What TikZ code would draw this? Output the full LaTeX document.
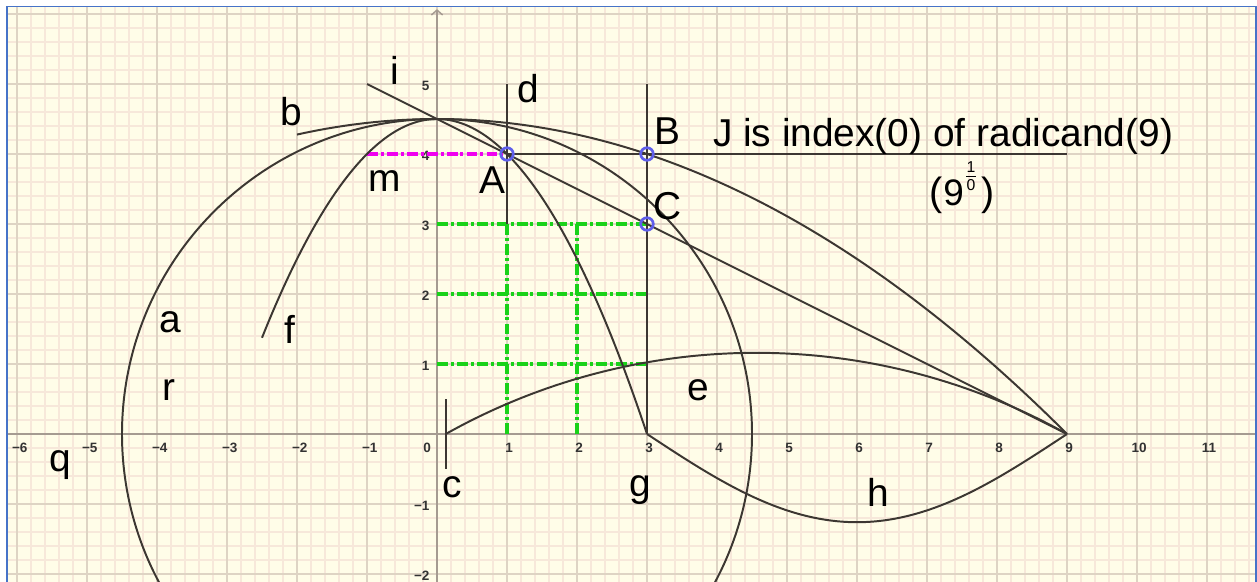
\documentclass[tikz,border=0pt]{standalone}
\usepackage{fontspec}
\setmainfont{Liberation Sans}
\usetikzlibrary{arrows.meta}
\definecolor{bgc}{RGB}{255,253,232}
\definecolor{gmaj}{RGB}{222,212,196}
\definecolor{gmin}{RGB}{247,232,218}
\definecolor{axc}{RGB}{165,155,145}
\definecolor{ink}{RGB}{60,55,50}
\definecolor{ptc}{RGB}{95,95,235}
\definecolor{grn}{RGB}{25,210,25}
\definecolor{mag}{RGB}{240,0,240}
\definecolor{frm}{RGB}{70,115,200}
\begin{document}
\begin{tikzpicture}[x=1cm,y=1cm,
  curve/.style={draw=ink, line width=0.8pt},
  dashdot/.style={line width=1.25pt, dash pattern=on 4.4pt off 1.2pt on 1.2pt off 1.3pt},
  lbl/.style={font=\fontsize{15.8}{18}\selectfont, inner sep=0pt, text=black},
  ticklbl/.style={font=\fontsize{5.5}{6}\selectfont\bfseries, inner sep=0pt, text=black!80},
  ptmark/.style={circle, draw=ptc, line width=1.1pt, minimum size=0.18cm, inner sep=0pt}
]
\useasboundingbox (-6.2429,-2.1) rectangle (11.7143,6.2);
\fill[white] (-6.2429,-2.1) rectangle (11.7143,6.2);
\begin{scope}
  \clip (-6.143,-2.1) rectangle (11.693,6.107);
  \fill[bgc] (-6.143,-2.2) rectangle (11.693,6.107);
  \draw[gmin, line width=0.45pt, step=0.2] (-6.4,-2.2) grid (11.8,6.2);
  \draw[gmaj, line width=0.65pt, step=1] (-7,-3) grid (12,7);
  % axes
  \draw[axc, line width=0.6pt] (-6.3,0) -- (11.8,0);
  \draw[axc, line width=0.6pt, -{Straight Barb[length=0.7mm,width=1.6mm]}] (0,-2.3) -- (0,6.07);
  % tick labels
  \foreach \n in {-6,-5,-4,-3,-2,-1}
    \node[ticklbl] (tx\n) at (\n+0.04,-0.2) {−\the\numexpr-\n\relax};
  \foreach \n in {1,...,11}
    \node[ticklbl] (tx\n) at (\n+0.03,-0.2) {\n};
  \node[ticklbl] (tx0) at (-0.14,-0.2) {0};
  \foreach \n in {1,...,5}
    \node[ticklbl, anchor=east] (ty\n) at (-0.1,\n-0.03) {\n};
  \node[ticklbl, anchor=east] (tym1) at (-0.1,-1.03) {−1};
  \node[ticklbl, anchor=east] (tym2) at (-0.1,-2.03) {−2};
  % key points
  \coordinate (A) at (1,4);
  \coordinate (B) at (3,4);
  \coordinate (C) at (3,3);
  \coordinate (N) at (9,0);
  \coordinate (I0) at (-1,5);
  \coordinate (D0) at (1,5);
  \coordinate (D1) at (1,3);
  \coordinate (G0) at (3,5);
  \coordinate (G1) at (3,0);
  \coordinate (J1) at (9,4);
  \coordinate (M0) at (-1,4);
  \coordinate (C0) at (0.125,0.5);
  \coordinate (C1) at (0.125,-0.5);
  % green dash-dot grid
  \foreach \yy in {1,2,3}
    \draw[grn, dashdot] (0,\yy) -- (3,\yy);
  \foreach \xx in {1,2}
    \draw[grn, dashdot] (\xx,3) -- (\xx,0);
  % magenta
  \draw[mag, dashdot] (M0) -- (A);
  % circle a
  \draw[curve] (0,0) circle (4.5);
  % parabola b
  \draw[curve] plot[domain=-2:9, samples=120, smooth] (\x,{4.5-\x*\x/18});
  % parabola f
  \draw[curve] plot[domain=-2.5:3, samples=120, smooth] (\x,{4.5-\x*\x/2});
  % line i
  \draw[curve] (I0) -- (N);
  % horizontal through A and B
  \draw[curve] (A) -- (J1);
  % vertical d and g
  \draw[curve] (D0) -- (D1);
  \draw[curve] (G0) -- (G1);
  % segment c
  \draw[curve] (C0) -- (C1);
  % arc e
  \draw[curve] plot[domain=0.125:9, samples=150, smooth] (\x,{sqrt(max(82.26-(\x-4.5625)*(\x-4.5625),0))-7.91});
  % curve h
  \draw[curve] plot[domain=3:9, samples=120, smooth] (\x,{-1.26*sin(30*(\x-3))});
  % point markers
  \node[ptmark] (Am) at (A) {};
  \node[ptmark] (Bm) at (B) {};
  \node[ptmark] (Cm) at (C) {};
  % labels
  \node[lbl] (li) at (-0.6,5.2) {i};
  \node[lbl] (ld) at (1.3,4.94) {d};
  \node[lbl] (lb) at (-2.086,4.6) {b};
  \node[lbl] (lB) at (3.286,4.33) {B};
  \node[lbl] (lm) at (-0.743,3.614) {m};
  \node[lbl] (lA) at (0.786,3.63) {A};
  \node[lbl] (lC) at (3.3,3.257) {C};
  \node[lbl] (la) at (-3.814,1.6) {a};
  \node[lbl] (lf) at (-2.1,1.5) {f};
  \node[lbl] (lr) at (-3.83,0.63) {r};
  \node[lbl] (le) at (3.73,0.63) {e};
  \node[lbl] (lq) at (-5.386,-0.443) {q};
  \node[lbl] (lc) at (0.214,-0.757) {c};
  \node[lbl] (lg) at (2.9,-0.8) {g};
  \node[lbl] (lh) at (6.3,-0.83) {h};
  \node[lbl, anchor=base west] (lJ) at (3.936,4.104) {J is index(0) of radicand(9)};
  \node[inner sep=0pt, text=black, anchor=base west] (lidx) at (7.03,3.261)
    {\fontsize{16}{16}\selectfont(\hspace{0.3pt}\fontsize{15}{15}\selectfont 9\hspace{1pt}\raisebox{6pt}{\fontsize{6.4}{6.4}\selectfont\shortstack{1\\[-1.7pt]\rule{3.8pt}{0.4pt}\\[-1.7pt]0}}\hspace{2.2pt}\fontsize{16}{16}\selectfont)};
\end{scope}
% frame
\draw[frm, line width=0.8pt] (-6.143,-2.3) -- (-6.143,6.107) -- (11.693,6.107) -- (11.693,-2.3);
\end{tikzpicture}
\end{document}
